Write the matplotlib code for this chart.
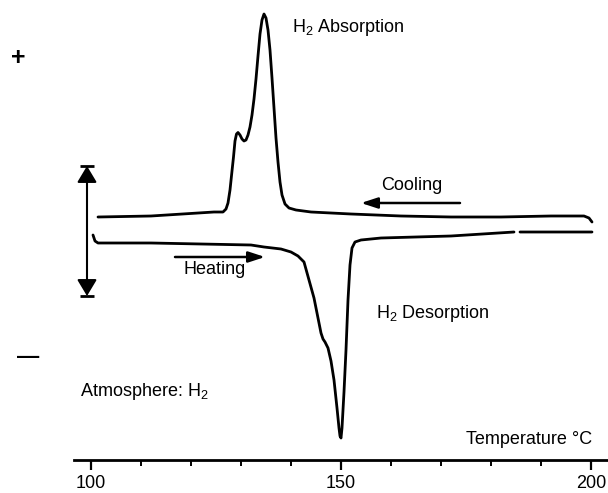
import numpy as np
import matplotlib
matplotlib.use("Agg")
import matplotlib.pyplot as plt

plt.rcParams["font.family"] = ["Liberation Sans", "DejaVu Sans"]
plt.rcParams["mathtext.fontset"] = "custom"
plt.rcParams["mathtext.rm"] = "Liberation Sans"

# cooling run (upper trace): temperature in C, signal in arbitrary units
cool_T = [101.4, 112, 124.6, 126.4, 127.0, 127.4, 127.8, 128.2, 128.5, 128.8, 129.1,
          129.4, 129.8, 130.2, 130.6, 131.0, 131.4, 131.8, 132.2, 132.6, 133.0, 133.4,
          133.8, 134.2, 134.6, 135.0, 135.4, 135.8, 136.2, 136.6, 137.0, 137.4, 137.8,
          138.2, 138.8, 139.6, 141.0, 144.0, 152.0, 162.0, 172.0, 182.0, 192.0, 198.6,
          199.6, 200.2]
cool_S = [0.26, 0.28, 0.36, 0.36, 0.42, 0.54, 0.80, 1.18, 1.46, 1.78, 1.92,
          1.95, 1.90, 1.82, 1.78, 1.80, 1.90, 2.06, 2.30, 2.62, 3.02, 3.48,
          3.92, 4.20, 4.32, 4.24, 4.00, 3.60, 3.04, 2.44, 1.84, 1.36, 0.96,
          0.70, 0.52, 0.44, 0.40, 0.36, 0.32, 0.28, 0.26, 0.26, 0.28, 0.28,
          0.24, 0.16]

# heating run (lower trace), recorder gap near 185 C
heat_T = [100.4, 100.8, 101.4, 112, 122, 132, 134.6, 138, 140, 141.4, 142.6, 143.6,
          144.6, 145.4, 146.0, 146.4, 146.8, 147.4, 148.0, 148.6, 149.2, 149.6, 149.8,
          150.0, 150.2, 150.6, 151.0, 151.4, 151.8, 152.2, 152.8, 154, 158, 172, 184.6,
          np.nan, 185.8, 200.2]
heat_S = [-0.10, -0.22, -0.26, -0.26, -0.28, -0.30, -0.34, -0.38, -0.44, -0.52, -0.64, -1.0,
          -1.36, -1.76, -2.06, -2.18, -2.24, -2.36, -2.62, -3.00, -3.56, -3.96, -4.12,
          -4.16, -3.96, -3.24, -2.40, -1.40, -0.70, -0.36, -0.24, -0.20, -0.16, -0.12, -0.04,
          np.nan, -0.04, -0.04]

major_ticks = [100, 150, 200]
minor_ticks = list(range(110, 200, 10))

fig = plt.figure(figsize=(6.08, 4.93), dpi=100)
ax = fig.add_axes([74 / 608, 33 / 493, 534 / 608, 460 / 493])

ax.plot(cool_T, cool_S, color="black", lw=2.0, solid_capstyle="round", solid_joinstyle="round")
ax.plot(heat_T, heat_S, color="black", lw=2.0, solid_capstyle="round", solid_joinstyle="round")

ax.set_xlim(96.6, 203.4)
ax.set_ylim(-4.6, 4.6)
for s in ["top", "left", "right"]:
    ax.spines[s].set_visible(False)
ax.spines["bottom"].set_linewidth(2)
ax.set_yticks([])
ax.set_xticks(major_ticks)
ax.set_xticks(minor_ticks, minor=True)
ax.tick_params(axis="x", which="major", direction="out", length=7, width=1.6,
               labelsize=13, pad=4)
ax.tick_params(axis="x", which="minor", direction="out", length=4, width=1.4)

# scale bar (double arrow)
ax.annotate("", xy=(99.2, 1.28), xytext=(99.2, -1.32),
            arrowprops=dict(arrowstyle="<|-|>,head_length=0.5,head_width=0.3", color="black",
                            lw=1.5, mutation_scale=20, shrinkA=0, shrinkB=0))
ax.plot([99.2, 99.2], [1.28, -1.32], ls="none", marker="_", ms=10, mew=2, color="black")

# direction arrows
ax.annotate("", xy=(154.0, 0.54), xytext=(173.8, 0.54),
            arrowprops=dict(arrowstyle="-|>,head_length=0.55,head_width=0.18", color="black",
                            lw=1.8, mutation_scale=18, shrinkA=0, shrinkB=0))
ax.annotate("", xy=(134.8, -0.54), xytext=(116.8, -0.54),
            arrowprops=dict(arrowstyle="-|>,head_length=0.55,head_width=0.18", color="black",
                            lw=1.8, mutation_scale=18, shrinkA=0, shrinkB=0))

fs = 13
ax.text(164.1, 0.9, "Cooling", fontsize=fs, ha="center", va="center")
ax.text(124.8, -0.8, "Heating", fontsize=fs, ha="center", va="center")
ax.text(140.1, 4.06, r"H$_\mathrm{2}$ Absorption", fontsize=fs, ha="left", va="center")
ax.text(157.1, -1.68, r"H$_\mathrm{2}$ Desorption", fontsize=fs, ha="left", va="center")
ax.text(97.8, -3.24, r"Atmosphere: H$_\mathrm{2}$", fontsize=fs, ha="left", va="center")
ax.text(200.2, -4.2, "Temperature \u00b0C", fontsize=fs, ha="right", va="center")

fig.text(18 / 608, 1 - 58 / 493, "+", fontsize=18, fontweight="bold", ha="center", va="center")
fig.text(28 / 608, 1 - 358 / 493, "\u2014", fontsize=16, fontweight="bold", ha="center", va="center")

fig.savefig("out.png", dpi=100)
